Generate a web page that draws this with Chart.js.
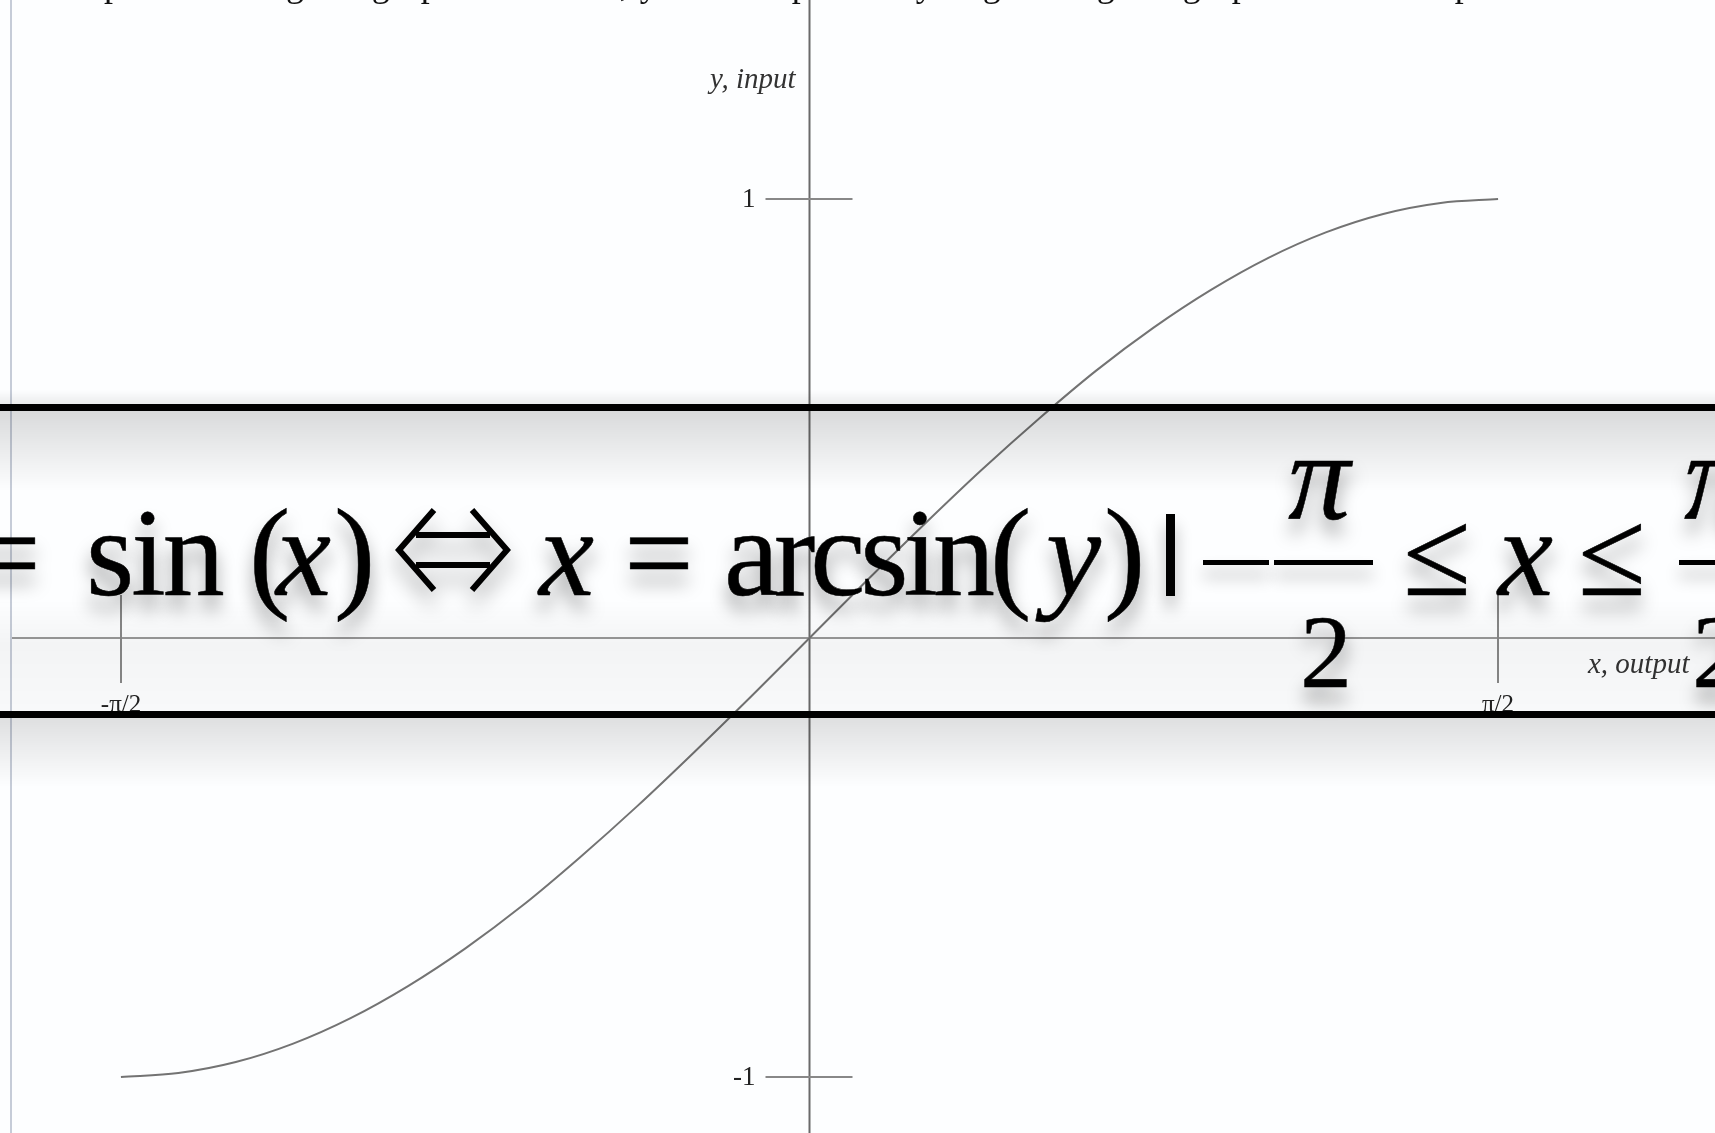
<!DOCTYPE html>
<html>
<head>
<meta charset="utf-8">
<script src="https://cdn.jsdelivr.net/npm/chart.js@4.4.1/dist/chart.umd.min.js"></script>
<style>
  html, body { margin: 0; padding: 0; background: #fdfeff; overflow: hidden; }
  #page { position: relative; width: 1715px; height: 1133px; overflow: hidden; }
  #myChart { position: absolute; left: 0; top: 0; }
  .border { position: absolute; left: 10px; top: 0; width: 2px; height: 1133px; background: #c6ccd8; }
  .topline { position: absolute; left: 22px; top: -37px; white-space: nowrap;
    font: 36px "Liberation Serif", "Times New Roman", serif; color: #111; letter-spacing: 1px; }
  .band { position: absolute; left: 0; width: 1715px; pointer-events: none; }
  .rule { position: absolute; left: 0; width: 1715px; height: 7px; background: #000; }
  .m { position: absolute; font-family: "Liberation Serif", "Times New Roman", serif; font-size: 124px;
    line-height: 1; color: #000; white-space: nowrap; -webkit-text-stroke: 0.5px #000;
    text-shadow: 0 14px 18px rgba(0,0,0,0.38); }
  .it { font-style: italic; }
  .sm { font-size: 104px; }
  .bar { position: absolute; background: #000; box-shadow: 0 12px 16px rgba(0,0,0,0.3); }
  .arrow { position: absolute; filter: drop-shadow(0 14px 10px rgba(0,0,0,0.35)); }
</style>
</head>
<body>
<div id="page">
  <canvas id="myChart" width="1715" height="1133"></canvas>
  <div class="border"></div>
  <div class="topline">example – reading the graph in reverse, y is the input and you go along the graph to the x output</div>

  <!-- shaded strip with the formula -->
  <div class="band" style="top:390px;height:14px;background:linear-gradient(rgba(0,0,0,0),rgba(0,0,0,0.07));"></div>
  <div class="band" style="top:411px;height:80px;background:linear-gradient(rgba(0,0,0,0.14),rgba(0,0,0,0));"></div>
  <div class="band" style="top:600px;height:111px;background:linear-gradient(rgba(0,0,0,0),rgba(0,0,0,0.04) 40%,rgba(0,0,0,0.02));"></div>
  <div class="band" style="top:717px;height:70px;background:linear-gradient(rgba(0,0,0,0.12),rgba(0,0,0,0));"></div>
  <div class="rule" style="top:404px;"></div>
  <div class="rule" style="top:711px;"></div>

  <div class="m" style="left:-29px;top:492px;">=</div>
  <div class="m" style="left:86px;top:492px;letter-spacing:-3px;">sin</div>
  <div class="m" style="left:249px;top:492px;">(</div>
  <div class="m it" style="left:276px;top:492px;">x</div>
  <div class="m" style="left:334px;top:492px;">)</div>
  <svg class="arrow" style="left:394px;top:508px;" width="118" height="84" viewBox="0 0 118 84">
    <g fill="none" stroke="#000" stroke-width="6">
      <polyline points="40,2 5,42 40,82"/>
      <polyline points="78,2 113,42 78,82"/>
      <line x1="22" y1="27" x2="96" y2="27"/>
      <line x1="22" y1="57" x2="96" y2="57"/>
    </g>
  </svg>
  <div class="m it" style="left:539px;top:492px;">x</div>
  <div class="m" style="left:624px;top:492px;">=</div>
  <div class="m" style="left:724px;top:492px;letter-spacing:-5px;">arcsin</div>
  <div class="m" style="left:990px;top:492px;">(</div>
  <div class="m it" style="left:1046px;top:492px;">y</div>
  <div class="m" style="left:1104px;top:492px;">)</div>
  <div class="bar" style="left:1166px;top:514px;width:9px;height:82px;"></div>
  <div class="bar" style="left:1203px;top:560px;width:66px;height:5px;"></div>
  <div class="bar" style="left:1274px;top:560px;width:99px;height:5px;"></div>
  <div class="m it" style="left:1288px;top:416px;">π</div>
  <div class="m sm" style="left:1300px;top:600px;">2</div>
  <div class="m" style="left:1403px;top:492px;">≤</div>
  <div class="m it" style="left:1498px;top:492px;">x</div>
  <div class="m" style="left:1578px;top:492px;">≤</div>
  <div class="bar" style="left:1679px;top:560px;width:60px;height:5px;"></div>
  <div class="m it" style="left:1684px;top:416px;">π</div>
  <div class="m sm" style="left:1692px;top:600px;">2</div>
</div>

<script>
// points, x in radians
const xValues = [-1.571, -1.440, -1.309, -1.178, -1.047, -0.916, -0.785, -0.654, -0.524, -0.393, -0.262, -0.131, 0,
                 0.131, 0.262, 0.393, 0.524, 0.654, 0.785, 0.916, 1.047, 1.178, 1.309, 1.440, 1.571];
const yValues = [-1.000, -0.991, -0.966, -0.924, -0.866, -0.793, -0.707, -0.609, -0.500, -0.383, -0.259, -0.131, 0,
                 0.131, 0.259, 0.383, 0.500, 0.609, 0.707, 0.793, 0.866, 0.924, 0.966, 0.991, 1.000];

const xTickValues = [-1.5708, 1.5708];
const xTickLabels = ['-π/2', 'π/2'];
const yTickValues = [1, -1];
const yTickLabels = ['1', '-1'];
const xTitle = 'x, output';
const yTitle = 'y, input';

const points = xValues.map((x, i) => ({ x: x, y: yValues[i] }));

// axes through the origin with ticks crossing them
const crossAxes = {
    id: 'crossAxes',
    beforeDatasetsDraw(chart) {
        const ctx = chart.ctx;
        const sx = chart.scales.x, sy = chart.scales.y;
        const x0 = sx.getPixelForValue(0);
        const y0 = sy.getPixelForValue(0);
        ctx.save();
        ctx.lineWidth = 2;
        ctx.strokeStyle = '#6a6a6a';
        ctx.beginPath();
        ctx.moveTo(x0, 0);
        ctx.lineTo(x0, chart.height);
        ctx.stroke();

        ctx.strokeStyle = '#999';
        ctx.beginPath();
        ctx.moveTo(12, y0);
        ctx.lineTo(chart.width, y0);
        ctx.stroke();

        ctx.strokeStyle = '#888';
        yTickValues.forEach(v => {
            const py = sy.getPixelForValue(v);
            ctx.beginPath();
            ctx.moveTo(x0 - 44, py);
            ctx.lineTo(x0 + 43, py);
            ctx.stroke();
        });
        xTickValues.forEach(v => {
            const px = sx.getPixelForValue(v);
            ctx.beginPath();
            ctx.moveTo(px, y0 - 43);
            ctx.lineTo(px, y0 + 45);
            ctx.stroke();
        });

        ctx.fillStyle = '#222';
        ctx.font = '27px "Liberation Serif", serif';
        ctx.textAlign = 'right';
        ctx.textBaseline = 'middle';
        yTickValues.forEach((v, i) => {
            ctx.fillText(yTickLabels[i], x0 - 54, sy.getPixelForValue(v) + 1);
        });

        ctx.font = '25px "Liberation Serif", serif';
        ctx.textAlign = 'center';
        ctx.textBaseline = 'alphabetic';
        xTickValues.forEach((v, i) => {
            ctx.fillText(xTickLabels[i], sx.getPixelForValue(v), y0 + 74);
        });

        ctx.fillStyle = '#333';
        ctx.font = 'italic 29px "Liberation Serif", serif';
        ctx.textBaseline = 'middle';
        ctx.textAlign = 'right';
        ctx.fillText(yTitle, x0 - 14, 80);
        ctx.textAlign = 'left';
        ctx.fillText(xTitle, 1588, y0 + 27);
        ctx.restore();
    }
};

const ctx = document.getElementById('myChart').getContext('2d');
const myChart = new Chart(ctx, {
    type: 'scatter',
    data: {
        datasets: [{
            label: 'sin',
            data: points,
            showLine: true,
            cubicInterpolationMode: 'monotone',
            borderColor: '#737373',
            borderWidth: 2,
            pointRadius: 0,
            fill: false
        }]
    },
    options: {
        responsive: false,
        animation: false,
        devicePixelRatio: 1,
        layout: { padding: 0 },
        plugins: {
            legend: { display: false },
            tooltip: { enabled: false }
        },
        scales: {
            x: { type: 'linear', min: -1.8469, max: 2.0659, display: false },
            y: { type: 'linear', min: -1.1276, max: 1.4533, display: false }
        }
    },
    plugins: [crossAxes]
});
</script>
</body>
</html>
